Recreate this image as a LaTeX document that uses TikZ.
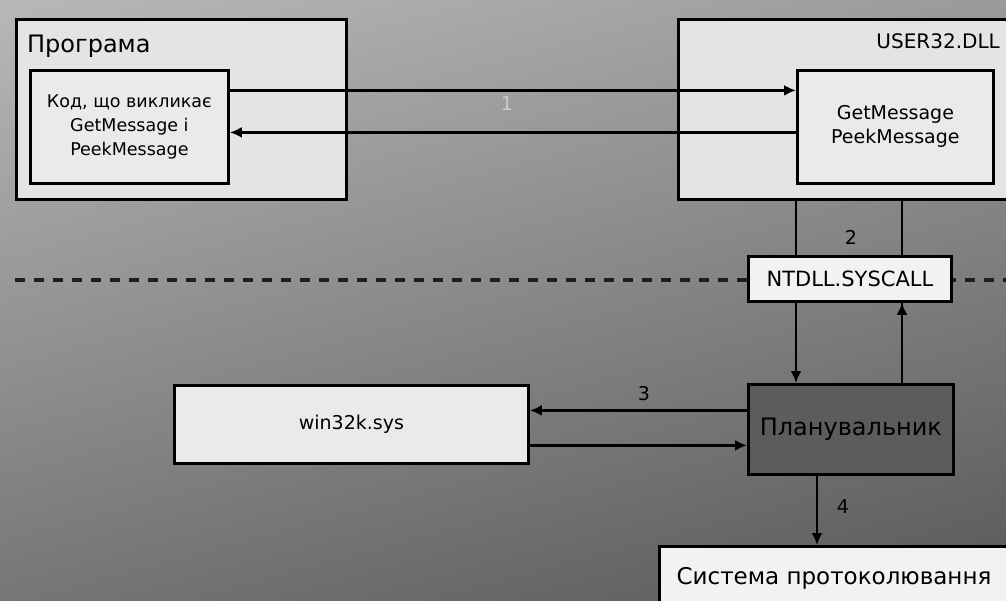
\documentclass[tikz,border=0pt]{standalone}
\usepackage{fontspec}
\setmainfont{DejaVu Sans}
\usetikzlibrary{arrows.meta,calc}
\definecolor{bgtop}{HTML}{BABABA}
\definecolor{bgbot}{HTML}{565656}
\definecolor{lightfill}{HTML}{E4E4E4}
\definecolor{innerfill}{HTML}{EAEAEA}
\definecolor{whitefill}{HTML}{F2F2F2}
\definecolor{schedfill}{HTML}{5C5C5C}
\definecolor{dashcol}{HTML}{1E1E1E}
\definecolor{faint}{HTML}{CCCCCC}
\tikzset{
  box/.style={draw=black, line width=2.8pt, anchor=north west, inner sep=0pt, align=center},
  conn/.style={line width=2.8pt, -{Latex[length=12pt,width=11pt]}},
  plainline/.style={line width=2.8pt},
  divider/.style={line width=3.2pt, draw=dashcol, dash pattern=on 10pt off 9pt},
  num/.style={font=\fontsize{19}{20}\selectfont},
  midtxt/.style={font=\fontsize{19}{24}\selectfont},
}
\begin{document}
\begin{tikzpicture}[x=1pt,y=-1pt]
\useasboundingbox (0,0) rectangle (1006,601);
\clip (0,0) rectangle (1006,601);
\shade[top color=bgtop, bottom color=bgbot, shading angle=15] (-100,-100) rectangle (1106,701);

% helper coordinates
\coordinate (rx) at (902,0);
\coordinate (bx) at (817,0);
\coordinate (dashL) at (15,280);
\coordinate (dashR) at (1010,280);

% Program
\node[box, fill=lightfill, minimum width=330, minimum height=180] (prog) at (15,18) {};
\node[anchor=west, font=\fontsize{24}{26}\selectfont, inner sep=0pt] (progl) at (27,46) {Програма};
\node[box, fill=innerfill, minimum width=198, minimum height=113, font=\fontsize{17.5}{24}\selectfont] (inA) at (29,69)
  {Код, що викликає\\GetMessage і\\PeekMessage};

% USER32.DLL
\node[box, fill=lightfill, minimum width=345, minimum height=180] (user) at (677,18) {};
\node[anchor=east, font=\fontsize{20}{24}\selectfont, inner sep=0pt] (userl) at (1000,41) {USER32.DLL};
\node[box, fill=innerfill, minimum width=196, minimum height=113, midtxt] (inB) at (796,69)
  {GetMessage\\PeekMessage};

% arrows between program and user32
\draw[conn] ([yshift=36.5pt]inA.east) -- ([yshift=36.5pt]inB.west);
\draw[conn] ([yshift=-5.5pt]inB.west) -- ([yshift=-5.5pt]inA.east);
\node[num, text=faint] (n1) at (507,104) {1};

% divider
\draw[divider] (dashL) -- (dashR);

% scheduler and the vertical connectors
\node[box, fill=schedfill, minimum width=205, minimum height=90, font=\fontsize{24}{26}\selectfont] (sched) at (747,383) {Планувальник};
\draw[conn] (user.south -| inB.west) -- (sched.north -| inB.west);
\draw[plainline] (user.south -| rx) -- (sched.north -| rx);
\node[box, fill=whitefill, minimum width=203, minimum height=45, font=\fontsize{21}{24}\selectfont] (nt) at (747,255) {NTDLL.SYSCALL};
\draw[conn] (sched.north -| rx) -- (nt.south -| rx);
\node[num] (n2) at (851,237) {2};

% win32k.sys
\node[box, fill=innerfill, minimum width=354, minimum height=78, midtxt] (wk) at (173,384) {win32k.sys};
\draw[conn] ([yshift=19pt]sched.west) -- ([yshift=19pt]sched.west -| wk.east);
\draw[conn] ([yshift=-16pt]sched.west -| wk.east) -- ([yshift=-16pt]sched.west);
\node[num] (n3) at (644,394) {3};

% bottom system
\node[box, fill=whitefill, minimum width=370, minimum height=70] (sys) at (658,545) {};
\node[font=\fontsize{23}{26}\selectfont, anchor=center] (sysl) at (834,578) {Система протоколювання};
\draw[conn] (sched.south -| bx) -- (sys.north -| bx);
\node[num] (n4) at (843,507) {4};
\end{tikzpicture}
\end{document}
